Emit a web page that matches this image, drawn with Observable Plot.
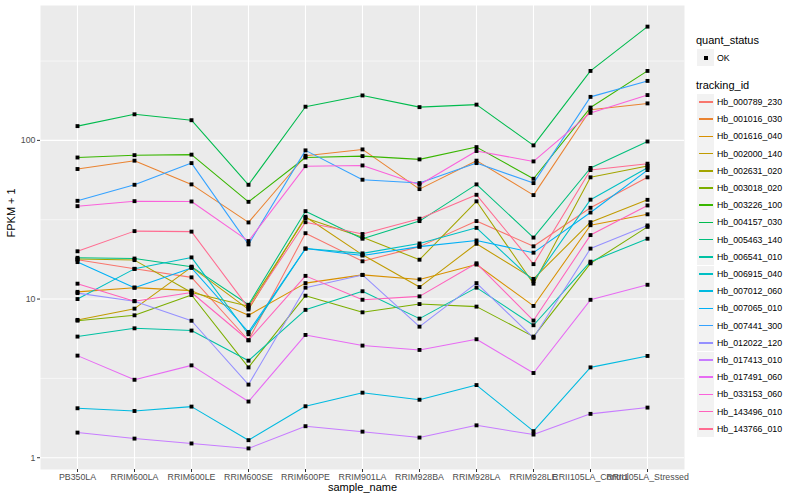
<!DOCTYPE html>
<html>
<head>
<meta charset="utf-8">
<script src="https://cdn.jsdelivr.net/npm/d3@7"></script>
<script src="https://cdn.jsdelivr.net/npm/@observablehq/plot@0.6"></script>
<style>
  body { margin: 0; background: white; }
  #wrap { position: relative; width: 800px; height: 500px; font-family: "Liberation Sans", Arial, sans-serif; }
  #chart { position: absolute; left: 0; top: 0; }
  .lg { position: absolute; white-space: nowrap; }
  .lgtitle { font-size: 11px; color: #000; line-height: 14px; }
  .lgtext { font-size: 8.8px; color: #000; line-height: 12px; }
  .key { position: absolute; width: 17px; height: 17px; background: #F2F2F2; }
</style>
</head>
<body>
<div id="wrap"><div id="chart"></div></div>
<script>
const samples = ["PB350LA","RRIM600LA","RRIM600LE","RRIM600SE","RRIM600PE","RRIM901LA","RRIM928BA","RRIM928LA","RRIM928LE","RRII105LA_Control","RRII105LA_Stressed"];

const trackingIds = ["Hb_000789_230","Hb_001016_030","Hb_001616_040","Hb_002000_140","Hb_002631_020","Hb_003018_020","Hb_003226_100","Hb_004157_030","Hb_005463_140","Hb_006541_010","Hb_006915_040","Hb_007012_060","Hb_007065_010","Hb_007441_300","Hb_012022_120","Hb_017413_010","Hb_017491_060","Hb_033153_060","Hb_143496_010","Hb_143766_010"];
const colors = ["#F8766D","#EA8331","#D89000","#C09B00","#A3A500","#7CAE00","#39B600","#00BB4E","#00BF7D","#00C1A3","#00BFC4","#00BAE0","#00B0F6","#35A2FF","#9590FF","#C77CFF","#E76BF3","#FA62DB","#FF62BC","#FF6C91"];

// FPKM + 1 per sample (order as in samples)
const hb000789 = [17.7, 15.5, 13.7, 5.5, 26.0, 17.3, 21.4, 31.0, 21.5, 37.6, 58.5];
const hb001016 = [66, 74.5, 52.8, 30.4, 80, 87.7, 49.3, 74.5, 45.2, 156, 171];
const hb001616 = [11.1, 11.8, 11.3, 7.9, 12.6, 14.2, 13.3, 16.5, 9.05, 29.2, 34.2];
const hb002000 = [7.39, 8.7, 15.9, 8.6, 33.0, 19.0, 11.9, 22.3, 13.4, 30.5, 42.2];
const hb002631 = [17.9, 17.6, 11.0, 9.0, 32.4, 24.5, 17.7, 41.3, 12.5, 58.5, 69];
const hb003018 = [7.31, 7.9, 10.6, 3.71, 10.5, 8.25, 9.3, 8.96, 5.8, 16.8, 28.5];
const hb003226 = [78, 80.7, 81.3, 41, 78, 79.6, 75.9, 90.7, 57.3, 161, 274];
const hb004157 = [123, 146, 134, 52.5, 163, 192, 162, 168, 93, 274, 521];
const hb005463 = [18.2, 18.0, 16.0, 9.2, 35.8, 24.0, 31.0, 52.8, 24.4, 67, 98.4];
const hb006541 = [5.8, 6.54, 6.33, 4.09, 8.55, 11.2, 7.53, 11.8, 6.84, 17.2, 24.0];
const hb006915 = [10.0, 15.5, 18.3, 6.0, 20.8, 19.4, 22.4, 28.1, 13.0, 42.3, 67.3];
const hb007012 = [2.05, 1.97, 2.10, 1.29, 2.11, 2.57, 2.32, 2.87, 1.47, 3.71, 4.38];
const hb007065 = [17.1, 11.8, 15.7, 6.2, 20.8, 18.8, 21.4, 23.4, 19.6, 35.1, 65];
const hb007441 = [41.6, 52.5, 71.9, 22.1, 86.5, 56.5, 53.8, 71.9, 53.8, 188, 237];
const hb012022 = [10.9, 9.7, 7.3, 2.89, 11.8, 14.2, 6.7, 12.6, 5.7, 20.8, 29.1];
const hb017413 = [1.44, 1.32, 1.23, 1.145, 1.58, 1.46, 1.34, 1.60, 1.40, 1.89, 2.07];
const hb017491 = [4.40, 3.10, 3.82, 2.26, 5.94, 5.09, 4.78, 5.58, 3.42, 9.89, 12.3];
const hb033153 = [38.5, 41.4, 41.2, 23.2, 68.8, 69.5, 52.5, 85.7, 73.7, 149, 193];
const hb143496 = [12.5, 9.7, 11.0, 5.5, 14.0, 9.9, 10.4, 16.8, 7.32, 25.3, 38.9];
const hb143766 = [20.0, 26.8, 26.6, 8.8, 30.5, 25.7, 32.1, 45.4, 16.6, 65, 71.3];

const seriesValues = [hb000789, hb001016, hb001616, hb002000, hb002631, hb003018, hb003226, hb004157, hb005463, hb006541, hb006915, hb007012, hb007065, hb007441, hb012022, hb017413, hb017491, hb033153, hb143496, hb143766];

const yTicks = [1, 10, 100];
const yMinor = [Math.sqrt(10), Math.sqrt(1000), Math.sqrt(100000)];

const data = [];
trackingIds.forEach((id, i) => {
  seriesValues[i].forEach((v, j) => data.push({id, sample: samples[j], value: v}));
});

const plot = Plot.plot({
  width: 690,
  height: 500,
  marginLeft: 40,
  marginRight: 6,
  marginTop: 5,
  marginBottom: 31,
  style: {fontFamily: "Liberation Sans, Arial, sans-serif", fontSize: "8.8px", color: "#4D4D4D", background: "white"},
  x: {type: "point", domain: samples, padding: 0.6},
  y: {type: "log", domain: [0.843, 708]},
  color: {domain: trackingIds, range: colors},
  marks: [
    Plot.frame({fill: "#EBEBEB", stroke: null}),
    Plot.ruleY(yMinor, {stroke: "white", strokeWidth: 0.55}),
    Plot.ruleY(yTicks, {stroke: "white", strokeWidth: 1.1}),
    Plot.ruleX(samples, {stroke: "white", strokeWidth: 1.1}),
    Plot.line(data, {x: "sample", y: "value", z: "id", stroke: "id", strokeWidth: 1.05}),
    Plot.dot(data, {x: "sample", y: "value", symbol: "square", r: 2.2, fill: "black", stroke: null}),
    Plot.axisX({tickSize: 3, tickPadding: 1.5, label: null, stroke: "#333333"}),
    Plot.axisY({ticks: yTicks, tickFormat: d => String(d), tickSize: 3, tickPadding: 2, label: null, stroke: "#333333"}),
    Plot.text(["sample_name"], {text: d => d, frameAnchor: "bottom", dy: 21.5, fontSize: 11, fill: "black"}),
    Plot.text(["FPKM + 1"], {text: d => d, frameAnchor: "left", dx: -29, rotate: -90, fontSize: 11, fill: "black"})
  ]
});
document.getElementById("chart").appendChild(plot);

// Legend
const wrap = d3.select("#wrap");
wrap.append("div").attr("class", "lg lgtitle").style("left", "696px").style("top", "33px").text("quant_status");
wrap.append("div").attr("class", "key").style("left", "697px").style("top", "49px")
  .append("div").style("position", "absolute").style("left", "6.5px").style("top", "6.5px")
  .style("width", "4px").style("height", "4px").style("background", "black");
wrap.append("div").attr("class", "lg lgtext").style("left", "717px").style("top", "51.5px").text("OK");
wrap.append("div").attr("class", "lg lgtitle").style("left", "696px").style("top", "78px").text("tracking_id");
trackingIds.forEach((id, i) => {
  const cy = 102 + i * 17.2;
  wrap.append("div").attr("class", "key").style("left", "697px").style("top", (cy - 8.5) + "px")
    .append("div").style("position", "absolute").style("left", "1.5px").style("top", "7.75px")
    .style("width", "14px").style("height", "1.5px").style("background", colors[i]);
  wrap.append("div").attr("class", "lg lgtext").style("left", "717px").style("top", (cy - 6) + "px").text(id);
});
</script>
</body>
</html>
